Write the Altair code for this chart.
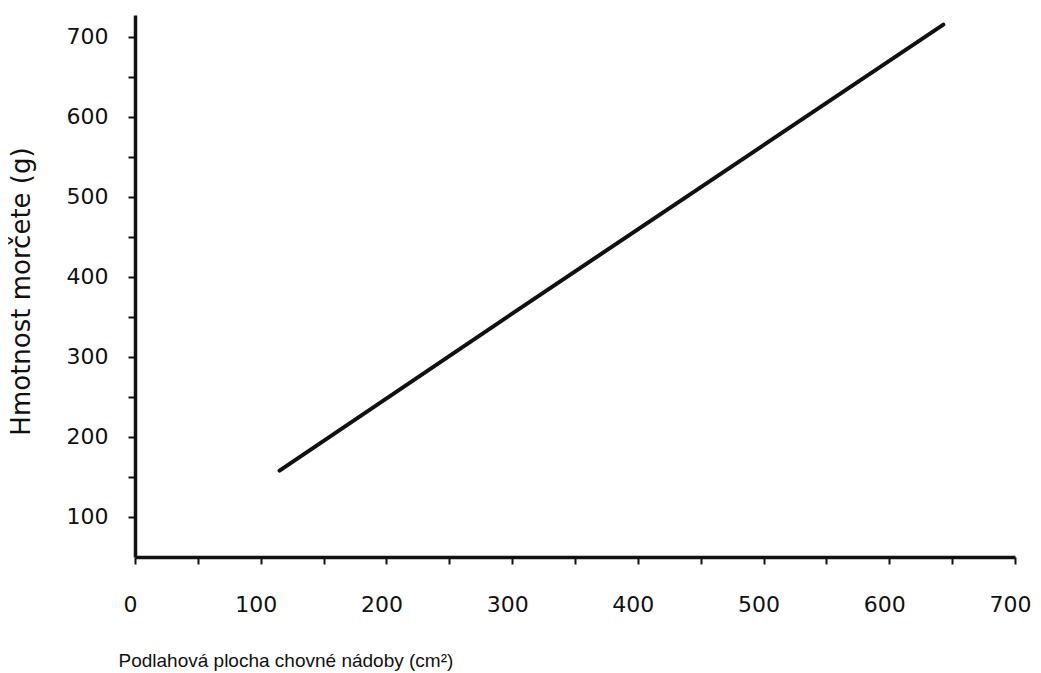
import altair as alt
import pandas as pd

# data
area_cm2 = [115, 300, 643]
mass_g = [158, 354, 715]

x_ticks = [0, 50, 100, 150, 200, 250, 300, 350, 400, 450, 500, 550, 600, 650, 700]
y_ticks = [100, 150, 200, 250, 300, 350, 400, 450, 500, 550, 600, 650, 700]

df = pd.DataFrame({"plocha": area_cm2, "hmotnost": mass_g})

FONT = "DejaVu Sans"
XT_FONT = "Liberation Sans"

chart = alt.Chart(df).mark_line(color="#111111", strokeWidth=4, strokeCap="round").encode(
    x=alt.X(
        "plocha:Q",
        scale=alt.Scale(domain=[0, 700], nice=False, zero=False),
        axis=alt.Axis(
            values=x_ticks,
            labelExpr="datum.value % 100 == 0 ? datum.label : ''",
            title="Podlahová plocha chovné nádoby (cm²)",
            titleX=-17, titleY=103, titleAlign="left", titleBaseline="middle",
            titleFont=XT_FONT, titleFontSize=19, titleFontWeight="normal", titleColor="#111111",
            labelFont=FONT, labelFontSize=22, labelColor="#111111", labelPadding=30,
            labelOffset=-5,
            labelFlush=False, labelOverlap=False,
            domainColor="#111111", domainWidth=3.5,
            tickColor="#111111", tickWidth=2, tickSize=7,
            grid=False,
        ),
    ),
    y=alt.Y(
        "hmotnost:Q",
        scale=alt.Scale(domain=[50, 727], nice=False, zero=False),
        axis=alt.Axis(
            values=y_ticks,
            labelExpr="datum.value % 100 == 0 ? datum.label : ''",
            title="Hmotnost morčete (g)",
            titleX=-114, titleY=276, titleAngle=270, titleAlign="center", titleBaseline="middle",
            titleFont=FONT, titleFontSize=26, titleFontWeight="normal", titleColor="#111111",
            labelFont=FONT, labelFontSize=22, labelColor="#111111", labelPadding=20,
            labelFlush=False, labelOverlap=False,
            domainColor="#111111", domainWidth=3.5,
            tickColor="#111111", tickWidth=2, tickSize=7,
            grid=False,
        ),
    ),
).properties(
    width=880,
    height=542,
    background="white",
    autosize=alt.AutoSizeParams(type="none"),
    padding={"left": 127, "top": 7, "right": 18, "bottom": 118},
).configure_view(stroke=None, strokeOpacity=0, strokeWidth=0)

chart.save("out.html", embed_options={"renderer": "svg", "actions": False})
